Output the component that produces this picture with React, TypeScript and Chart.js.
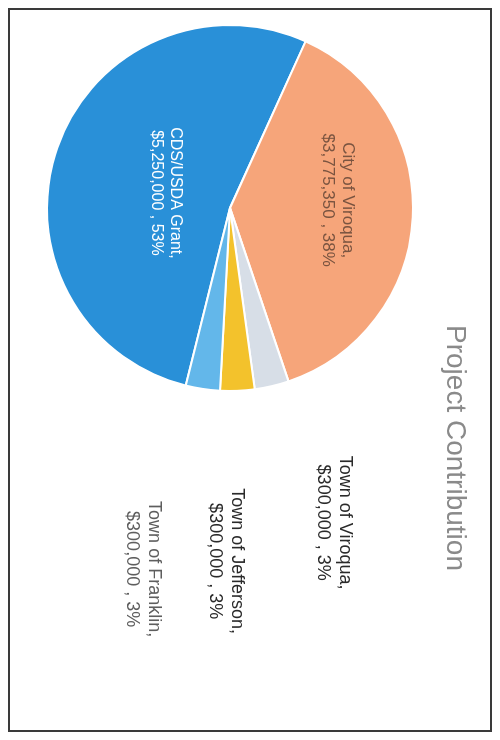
import React, { useEffect, useRef } from "react";
import { Chart, registerables } from "chart.js";
Chart.register(...registerables);

const categories = ["CDS/USDA Grant", "City of Viroqua", "Town of Viroqua", "Town of Jefferson", "Town of Franklin"];
const amounts = [5250000, 3775350, 300000, 300000, 300000];
const amountLabels = ["$5,250,000", "$3,775,350", "$300,000", "$300,000", "$300,000"];
const percentLabels = ["53%", "38%", "3%", "3%", "3%"];
const titleText = "Project Contribution";

const colors = ["#2990d8", "#f6a57a", "#d7dee7", "#f3c22c", "#63b7ea"];
const labelColors = ["#ffffff", "#7a5440", "#2a2a2a", "#2a2a2a", "#5e5e5e"];
const labelFontSize = [16, 17, 18, 18, 18];
const labelDist = [0.36, 0.59, 1.81, 1.93, 2.03];
const labelAngleOffset = [-6, -7, -5, 3, 5];

const labelPlugin = {
  id: "sliceLabels",
  afterDraw(chart: any) {
    const ctx = chart.ctx;
    const meta = chart.getDatasetMeta(0);
    ctx.save();
    // border frame
    ctx.strokeStyle = "#3a3a3a";
    ctx.lineWidth = 2;
    ctx.strokeRect(9, 9, 722, 482);
    // title
    ctx.fillStyle = "#8a8a8a";
    ctx.font = "28px 'Liberation Sans', Arial, sans-serif";
    ctx.textAlign = "center";
    ctx.textBaseline = "middle";
    ctx.fillText(titleText, 448, 45);
    // slice labels
    meta.data.forEach((arc: any, i: number) => {
      const p = arc.getProps(["x", "y", "startAngle", "endAngle", "outerRadius"], true);
      const mid = (p.startAngle + p.endAngle) / 2 + (labelAngleOffset[i] * Math.PI) / 180;
      const d = labelDist[i] * p.outerRadius;
      const lx = p.x + Math.cos(mid) * d;
      const ly = p.y + Math.sin(mid) * d;
      const fs = labelFontSize[i];
      const lh = Math.round(fs * 1.2);
      ctx.font = fs + "px 'Liberation Sans', Arial, sans-serif";
      ctx.fillStyle = labelColors[i];
      ctx.fillText(categories[i] + ",", lx, ly - lh / 2);
      ctx.fillText(amountLabels[i] + " , " + percentLabels[i], lx, ly + lh / 2);
    });
    ctx.restore();
  },
};

export default function App() {
  const ref = useRef<HTMLCanvasElement>(null);
  useEffect(() => {
    if (!ref.current) return;
    const chart = new Chart(ref.current, {
      type: "pie",
      data: {
        labels: categories,
        datasets: [
          {
            data: amounts,
            backgroundColor: colors,
            borderColor: "#ffffff",
            borderWidth: 2,
          },
        ],
      },
      options: {
        responsive: false,
        animation: false,
        rotation: 104,
        layout: { padding: { left: 23, right: 347, top: 86, bottom: 46 } },
        plugins: {
          legend: { display: false },
          tooltip: { enabled: false },
          title: { display: false },
        },
      },
      plugins: [labelPlugin],
    });
    return () => chart.destroy();
  }, []);
  return (
    <div style={{ position: "fixed", left: 0, top: 0, width: 500, height: 740, overflow: "hidden", background: "#ffffff" }}>
      <div
        style={{
          position: "absolute",
          left: -120,
          top: 120,
          width: 740,
          height: 500,
          transform: "rotate(90deg)",
          transformOrigin: "50% 50%",
        }}
      >
        <canvas ref={ref} width={740} height={500} style={{ display: "block", width: 740, height: 500 }} />
      </div>
    </div>
  );
}
